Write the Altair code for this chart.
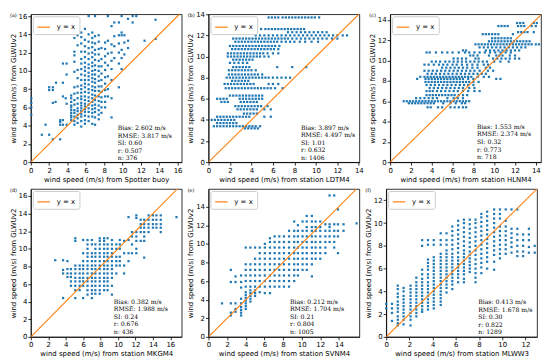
import altair as alt
import pandas as pd

BLUE = "#1f77b4"
ORANGE = "#ff7f0e"
SANS = "DejaVu Sans"
SERIF = "DejaVu Serif"
YTITLE = "wind speed (m/s) from GLWUv2"

# ---- panel (a): columns (x, [y values]) ----
a_cols = [
    (0.05, [5.2, 6.0, 6.5, 7.0]),
    (1.2, [3.0]), (1.6, [4.1]), (2.0, [3.0, 7.9, 8.2]), (2.4, [2.5, 6.5, 7.9, 8.2]),
    (2.7, [6.6]), (2.75, [8.7]),
    (3.2, [2.5, 4.1, 4.4, 4.6]), (3.5, [4.1, 4.6, 7.2, 8.7, 10.8]), (3.8, [7.0]),
    (3.9, [4.1, 6.4, 9.6, 10.8]),
    (4.4, [4.6, 4.9, 5.1, 5.4, 5.7, 6.0, 6.2, 6.6, 7.0, 7.3]),
    (4.75, [4.1, 4.5, 5.0, 5.4, 5.7, 6.3, 6.8, 7.5, 8.2, 9.9, 11.0, 11.7, 12.1, 13.6, 14.3, 14.9]),
    (5.1, [4.3, 4.8, 5.2, 5.6, 5.9, 6.4, 7.0, 7.6, 8.3, 9.2, 10.1, 12.8, 13.9, 15.6]),
    (5.5, [3.9, 4.5, 5.0, 5.3, 5.6, 5.9, 6.2, 6.5, 6.9, 7.2, 7.6, 8.0, 8.4, 9.0, 9.6, 10.2, 10.8, 11.3, 12.1, 13.0, 13.7, 14.2]),
    (5.9, [4.2, 4.6, 5.1, 5.5, 5.8, 6.1, 6.4, 6.8, 7.2, 7.7, 8.2, 8.6, 9.0, 9.5, 10.0, 10.4, 10.9, 11.5, 12.1, 12.7, 13.4, 14.6]),
    (6.3, [4.5, 5.0, 5.5, 5.9, 6.3, 6.7, 7.1, 7.6, 8.0, 8.5, 9.0, 9.4, 9.8, 10.3, 10.7, 11.3, 11.9, 12.5, 13.2, 14.0, 16.0]),
    (6.7, [4.2, 5.0, 5.4, 5.8, 6.2, 6.6, 7.0, 7.4, 7.9, 8.3, 8.8, 9.2, 9.6, 10.0, 10.5, 10.9, 11.5, 12.0, 12.6, 13.1, 13.6, 14.2]),
    (7.0, [4.1, 4.9, 5.5, 5.9, 6.3, 6.8, 7.3, 7.8, 8.2, 8.7, 9.1, 9.6, 10.1, 10.6, 11.2, 11.8, 12.3, 13.0, 13.8, 16.0]),
    (7.4, [4.7, 5.2, 5.7, 6.2, 6.7, 7.2, 7.8, 8.3, 8.9, 9.4, 10.0, 10.5, 11.1, 11.8, 12.4, 13.2, 13.9]),
    (7.7, [5.4, 6.0, 6.6, 7.1, 7.7, 8.3, 9.0, 9.7, 10.5, 11.3, 12.5]),
    (8.1, [6.0, 6.6, 7.2, 7.9, 8.6, 9.3, 10.1, 10.9, 11.6, 12.4, 13.1]),
    (8.4, [7.2, 8.0, 9.4, 10.6, 11.9, 13.3, 16.0]),
    (8.8, [4.9, 7.0, 9.0, 10.2, 11.1, 12.0, 12.9, 14.9]),
    (9.1, [11.4, 12.7, 13.8, 15.3]),
    (9.6, [8.2, 10.8, 12.0, 13.0, 13.9, 15.3]),
    (9.9, [10.2, 11.4, 12.3, 13.9, 14.2, 16.0]),
    (10.2, [11.8, 13.1, 13.9]),
    (10.6, [12.5, 13.3, 15.7]),
    (11.1, [15.3, 16.0]), (11.5, [16.0]),
    (12.4, [13.3]),
    (13.6, [13.5, 15.6]),
]

# ---- panel (b): bands (y, [x values]) ----
b_bands = [
    (13.7, [5.6, 5.9, 6.2, 6.5, 6.9, 7.2, 7.5, 7.8, 8.1, 8.4, 8.7, 9.0, 9.3, 9.6, 9.9, 10.3]),
    (12.6, [4.9, 5.3, 5.6, 5.9, 6.2, 6.5, 6.8, 7.1, 7.4, 7.7, 8.0, 8.3, 8.6, 8.9]),
    (12.3, [7.4, 7.8, 8.2, 8.6, 9.0, 9.4, 9.8, 10.2, 10.6, 11.0]),
    (12.0, [4.4, 4.8, 5.2, 5.6, 6.0, 6.4, 6.8, 7.2, 7.6, 8.0, 8.4, 8.8, 9.2, 9.6, 10.0, 10.4, 10.8, 11.2, 11.6, 12.0, 12.5, 12.9]),
    (11.7, [2.3, 2.6, 2.9, 3.2, 3.5, 3.8, 4.1, 4.4, 4.7, 5.0, 5.3, 5.6, 5.9, 6.2, 6.5, 6.8, 7.1, 7.4, 7.8, 8.2, 8.6, 9.0, 9.4, 9.8, 10.2, 10.6, 11.0, 11.5, 12.0]),
    (11.4, [2.5, 2.8, 3.1, 3.4, 3.7, 4.0, 4.3, 4.6, 4.9, 5.2, 5.5, 5.8, 6.1, 6.4, 6.8, 7.2, 7.6, 8.0, 8.5, 9.0, 9.6, 10.2]),
    (11.0, [2.0, 2.3, 2.6, 2.9, 3.2, 3.5, 3.8, 4.1, 4.4, 4.7, 5.0, 5.3, 5.6, 5.9, 6.2, 6.6]),
    (10.7, [2.2, 2.5, 2.8, 3.1, 3.4, 3.7, 4.0, 4.3, 4.6, 4.9, 5.2, 5.5, 5.8, 6.1, 6.5]),
    (10.3, [1.8, 2.1, 2.4, 2.7, 3.0, 3.3, 3.6, 3.9, 4.2, 4.5, 4.8, 5.1, 5.5, 6.0, 6.5]),
    (10.0, [1.8, 2.1, 2.4, 2.7, 3.0, 3.3, 3.6, 3.9, 4.2, 4.5, 4.8, 5.2, 5.6]),
    (9.7, [2.3, 2.6, 2.9, 3.2, 3.5, 3.8, 4.1]),
    (9.4, [2.0, 2.4, 2.8, 3.2, 3.6]),
    (9.0, [2.3, 2.6, 2.9, 3.2, 3.5, 3.8, 6.4, 7.8, 9.1]),
    (8.7, [1.9, 2.2, 2.5, 2.8, 3.1, 3.4, 3.7, 4.0, 4.4]),
    (8.3, [1.9, 2.2, 2.5, 2.8, 3.1, 3.4, 3.7, 4.0, 4.3, 4.6, 5.0]),
    (8.0, [1.7, 2.0, 2.3, 2.6, 2.9, 3.2, 3.5, 3.8, 4.1, 4.4, 4.7, 5.0, 5.3, 5.6, 6.0, 6.4, 6.8, 7.2, 7.6]),
    (7.7, [2.2, 2.5, 2.8, 3.1, 3.4, 3.7]),
    (7.4, [1.5, 1.8, 2.1, 2.4, 2.7, 3.0, 3.3, 3.6, 3.9, 4.2, 5.6, 6.0, 6.5]),
    (7.0, [1.6, 1.9, 2.2, 2.5, 2.8, 3.1, 3.4, 3.7, 4.0, 4.3, 4.6, 4.9, 5.2, 5.5, 5.8, 6.2, 6.9]),
    (6.3, [2.0, 2.3, 2.6, 2.9, 3.2, 3.5, 3.8, 4.1, 4.4, 4.7, 5.0]),
    (6.0, [0.8, 1.1, 1.4, 1.7, 2.9, 3.2, 3.5, 3.8, 4.1, 4.4, 4.7, 5.0]),
    (5.7, [1.2, 1.5, 1.8, 3.0, 3.3, 3.6, 3.9, 4.2, 4.5]),
    (5.3, [2.5, 2.8, 3.1, 3.4, 3.7, 4.0, 4.3, 4.6, 4.9, 5.5]),
    (5.0, [2.7, 3.0, 3.3, 3.6, 3.9, 4.2, 4.5, 5.2, 5.8]),
    (4.6, [3.3, 3.6, 3.9, 4.2, 4.5]),
    (4.3, [0.8, 1.1, 1.4, 1.7, 2.0, 2.3, 2.6, 2.9, 3.2, 3.5, 3.8, 5.2, 5.8]),
    (4.0, [0.3, 0.6, 0.9, 1.2, 1.5, 1.8, 2.1, 2.4]),
    (3.7, [0.8, 1.1, 1.4, 1.7, 2.0, 2.3, 2.6]),
    (3.4, [0.5, 0.8, 1.1, 1.4, 1.7, 2.0, 2.3, 2.6, 2.9, 3.2, 3.5, 3.8, 4.1, 4.4, 4.8]),
    (3.2, [3.4, 3.7, 4.0, 4.3, 4.6]),
]

# ---- panel (c): bands (y, [x values]) ----
c_bands = [
    (13.7, [12.2, 12.5, 12.8, 13.8, 14.1]),
    (13.4, [10.4, 10.7, 11.0, 11.3, 12.3, 12.6, 12.9, 13.6, 14.0]),
    (12.8, [12.3, 12.6, 12.9, 13.2, 13.8]),
    (12.6, [8.9, 9.2, 9.5, 9.8, 10.1, 10.4, 11.8]),
    (12.2, [9.8, 10.1, 10.4, 10.7, 11.0, 11.3, 11.6]),
    (11.9, [9.5, 9.8, 10.1, 10.4, 10.7, 11.0, 11.3, 11.6, 11.9, 12.2, 12.5, 12.8, 13.1, 13.4]),
    (11.6, [8.2, 8.5, 8.8, 9.1, 9.4, 9.7, 10.0, 10.3, 10.6, 10.9, 11.2, 11.5, 11.8, 12.1, 12.4, 12.7, 13.0, 13.3, 13.6, 14.0, 14.3]),
    (11.3, [8.6, 9.0, 9.4, 9.8, 10.2, 10.6, 11.0, 11.4, 11.8, 12.2, 12.6, 13.0]),
    (11.0, [7.0, 7.3, 9.2, 9.6, 10.0, 10.4, 10.8, 11.2, 11.6, 12.0, 12.4]),
    (10.8, [3.5, 3.8, 4.4, 5.0, 5.5, 6.0, 6.6, 7.2, 7.6, 8.1, 8.6, 9.1, 9.6, 10.1, 10.6, 11.1, 11.6]),
    (10.5, [7.7, 8.0, 8.4, 9.5, 10.2, 10.5, 10.8, 11.5, 12.0]),
    (10.2, [6.1, 6.5, 6.9, 7.3, 8.2, 8.5, 9.9, 10.3, 10.7, 11.1, 11.5, 12.0, 12.4]),
    (9.9, [4.0, 4.4, 4.8, 5.3, 5.7, 6.1, 6.5, 6.9, 7.3, 7.7, 8.1, 8.5, 8.9, 9.3, 10.0, 10.6, 11.4]),
    (9.6, [3.3, 3.7, 4.2, 4.7, 5.1, 5.5, 6.0, 6.4, 6.9, 7.4, 7.9, 8.4, 9.0, 9.4]),
    (9.3, [5.0, 5.4, 5.8, 6.2, 6.6, 7.0, 7.4, 7.9, 8.4, 9.2, 9.6]),
    (9.0, [3.3, 3.7, 4.1, 4.5, 4.9, 5.3, 5.7, 6.1, 6.5, 6.9, 7.3, 7.7, 8.1, 8.6, 9.4, 9.9]),
    (8.7, [3.6, 4.0, 4.4, 4.8, 5.2, 5.6, 6.0, 6.4, 6.8, 7.2, 7.6, 8.0, 8.4, 8.8, 9.2]),
    (8.4, [2.9, 3.3, 3.6, 3.9, 4.2, 4.5, 4.8, 5.1, 5.4, 5.7, 6.0, 6.3, 6.6, 6.9, 7.2, 7.5, 7.8, 8.4, 9.0, 9.5]),
    (8.2, [2.6, 3.4, 3.7, 4.0, 4.3, 4.6, 4.9, 5.2, 5.5, 5.8, 6.1, 6.4, 6.7, 7.0, 7.5, 8.0, 10.2, 10.6]),
    (7.9, [3.4, 3.7, 4.0, 4.3, 4.6, 4.9, 5.2, 5.5, 5.8, 6.1, 6.4, 6.7, 7.0, 7.3, 7.6, 8.0, 8.5]),
    (7.6, [3.5, 3.9, 4.3, 4.7, 5.1, 5.5, 5.9, 6.3, 6.7, 7.1, 7.5, 8.0]),
    (7.3, [3.8, 4.2, 4.6, 5.0, 5.4, 5.8, 6.2, 6.6, 7.0, 7.6, 8.1]),
    (7.0, [3.5, 3.8, 4.1, 4.5, 4.9, 5.3, 5.7, 6.1, 6.5, 7.0, 7.5, 8.1, 8.6]),
    (6.6, [3.5, 3.8, 4.1, 4.4, 4.7, 5.0, 5.3, 5.6, 5.9, 6.2, 6.6, 7.0, 7.4]),
    (6.3, [2.5, 2.9, 3.3, 3.7, 4.1, 4.5, 5.5, 6.1, 6.5, 7.0]),
    (6.0, [1.3, 1.6, 1.9, 2.2, 2.5, 2.8, 3.1, 3.4, 3.7, 4.0, 4.3, 4.6, 4.9, 5.2, 5.5, 5.8, 6.1, 6.4, 6.7, 7.0, 7.3, 7.6]),
    (5.8, [1.8, 2.1, 2.4, 2.7, 3.0, 3.3, 3.6, 3.9, 4.2, 5.1, 5.8, 6.3, 6.9, 7.2]),
    (5.4, [3.6, 3.9, 4.6, 5.0, 5.8, 6.2, 6.6, 7.0, 7.3]),
]

# ---- panel (d): columns (x, [y values]) ----
d_cols = [
    (2.8, [8.7]),
    (3.7, [4.4, 7.2, 7.6, 8.7]),
    (4.2, [6.8, 7.2, 7.7, 8.6]),
    (4.6, [5.8, 6.3, 6.8, 7.2, 7.7]),
    (5.1, [4.4, 5.3, 5.8, 6.3, 6.7, 7.2, 7.7, 8.1, 10.9, 11.2]),
    (5.6, [5.3, 5.8, 6.3, 6.7, 7.2, 7.7, 8.1]),
    (6.0, [4.4, 5.8, 6.3, 6.7, 7.2, 7.7, 8.1, 8.6, 9.5, 11.0]),
    (6.5, [4.8, 5.3, 5.8, 6.3, 6.7, 7.2, 7.7, 8.1, 8.6, 9.1, 9.5, 10.0, 10.5, 11.0]),
    (7.0, [4.4, 4.9, 5.3, 5.8, 6.3, 6.7, 7.2, 7.7, 8.1, 8.6, 9.1, 9.5, 10.5, 11.0]),
    (7.4, [4.9, 5.3, 5.8, 6.3, 6.7, 7.2, 7.7, 8.1, 8.6, 9.1, 9.5, 10.0, 10.5]),
    (7.9, [4.9, 5.3, 5.8, 6.3, 6.7, 7.2, 7.7, 8.1, 8.6, 9.1, 9.5, 10.0, 10.5, 10.9, 11.2]),
    (8.4, [5.3, 5.8, 6.3, 6.7, 7.2, 7.7, 8.1, 8.6, 9.1, 9.5, 10.0, 10.5, 10.9, 11.2]),
    (8.8, [5.3, 5.8, 6.3, 6.7, 7.2, 7.7, 8.1, 8.6, 9.1, 9.5, 10.0, 10.5, 11.2]),
    (9.3, [4.8, 5.8, 6.7, 7.2, 7.7, 8.1, 8.6, 9.1, 9.5, 10.0, 10.5, 11.0]),
    (9.8, [7.2, 8.1, 8.6, 9.1, 10.0, 10.5]),
    (10.2, [8.1, 8.6, 9.1, 10.0, 10.5, 11.0]),
    (10.7, [7.2, 8.1, 9.5, 10.9]),
    (11.2, [8.6, 9.5, 11.0, 13.6]),
    (11.6, [9.5, 10.5, 11.4, 11.9]),
    (12.1, [9.5, 10.0, 10.9, 11.4, 11.9, 13.5, 13.8]),
    (12.6, [10.9, 11.9, 12.4, 12.8, 13.3]),
    (13.0, [9.0, 10.9, 11.4, 11.9, 12.4, 12.8, 13.3]),
    (13.5, [11.9, 12.4, 12.8, 13.3, 13.8]),
    (14.0, [12.4, 12.8, 13.3, 13.8]),
    (14.4, [12.4, 12.8, 13.3, 13.8]),
    (14.9, [11.9, 12.4, 12.8, 13.3, 13.8]),
    (16.7, [13.6]),
]

# ---- panel (e): columns (x, [y values]) ----
e_cols = [
    (1.45, [3.6]),
    (2.4, [2.3, 2.6, 3.6, 5.9, 7.2]),
    (2.9, [2.7, 3.0, 3.6, 5.9, 6.5]),
    (3.5, [2.3, 2.6, 2.9, 3.2, 3.6, 4.1, 5.3, 5.9, 6.6]),
    (4.0, [3.0, 3.3, 3.6, 3.9, 4.2, 4.5, 4.8, 5.4, 6.0, 6.6, 7.2, 7.8, 9.6]),
    (4.5, [3.8, 4.1, 4.4, 4.7, 5.0, 5.4, 6.0, 6.6, 7.2, 7.8, 9.6]),
    (5.0, [4.4, 4.7, 5.0, 5.4, 6.0, 6.6, 7.2, 7.8, 8.4, 9.6]),
    (5.5, [4.8, 5.4, 6.0, 6.6, 7.2, 7.8, 8.4, 9.0, 9.6]),
    (6.05, [4.7, 5.4, 6.0, 6.6, 7.2, 7.8, 8.4, 9.0, 9.6, 10.0]),
    (6.6, [4.7, 5.4, 6.0, 6.6, 7.2, 7.8, 8.4, 9.0, 9.6, 10.2, 10.6]),
    (7.1, [5.4, 6.0, 6.6, 7.2, 7.8, 8.4, 9.0, 9.6, 10.2, 10.8]),
    (7.6, [5.4, 6.0, 6.6, 7.2, 7.8, 8.4, 9.0, 9.6, 10.2, 10.8]),
    (8.1, [5.4, 6.0, 6.6, 7.2, 7.8, 8.4, 9.0, 9.6, 10.2, 10.8]),
    (8.65, [5.4, 6.0, 6.6, 7.2, 7.8, 8.4, 9.0, 9.6, 10.2, 10.8, 11.4]),
    (9.2, [6.0, 6.6, 7.2, 7.8, 8.4, 9.0, 9.6, 10.2, 10.8, 11.4, 12.4]),
    (9.6, [6.6, 7.2, 7.8, 8.4, 9.0, 9.6, 10.2, 10.8, 11.4, 12.0]),
    (10.1, [7.2, 7.8, 8.4, 9.0, 9.6, 10.2, 10.8, 11.4, 12.4]),
    (10.55, [7.2, 7.8, 8.4, 9.0, 9.6, 10.2, 10.8, 11.4, 11.8, 12.4, 13.0]),
    (11.1, [6.5, 7.8, 8.4, 9.0, 9.6, 10.2, 10.8, 11.4, 11.8, 12.4, 13.0]),
    (11.5, [8.4, 9.0, 9.6, 10.2, 10.8, 11.4, 11.8, 12.4]),
    (12.0, [8.4, 9.0, 9.6, 10.2, 10.8, 11.4, 11.8, 12.4]),
    (12.55, [9.0, 9.6, 10.2, 10.8, 11.4, 12.1]),
    (13.0, [10.2, 10.8, 11.4, 11.8, 12.1, 15.2]),
    (13.5, [9.6, 10.2, 10.8, 11.4, 12.1, 15.2]),
    (13.9, [9.0, 10.8, 11.4, 12.1, 13.7]),
    (14.5, [11.4, 12.1]),
    (15.9, [12.2]),
]

# ---- panel (f): columns (x, [y values]) ----
f_cols = [
    (0.0, [2.5, 2.9]),
    (0.5, [1.4, 2.1, 2.5, 2.9]),
    (1.0, [1.0, 1.2, 1.5, 1.8, 2.2, 2.5, 2.8, 3.1, 3.5, 3.8, 4.2, 4.5]),
    (1.5, [1.1, 1.5, 1.8, 2.1, 2.4, 2.7, 3.0, 3.3, 3.6, 4.0, 4.3]),
    (2.1, [1.0, 1.5, 1.8, 2.1, 2.4, 2.7, 3.0, 3.3, 3.6, 3.9, 4.2, 4.5]),
    (2.6, [1.8, 2.1, 2.4, 2.7, 3.0, 3.3, 3.6, 3.9, 4.2, 4.5, 4.8, 5.2]),
    (3.1, [2.2, 2.4, 2.7, 3.0, 3.3, 3.6, 3.9, 4.2, 4.5, 4.8, 5.1, 5.5, 5.9, 8.0, 8.5]),
    (3.6, [2.4, 2.7, 3.0, 3.3, 3.6, 3.9, 4.2, 4.5, 4.8, 5.2, 5.5, 5.9, 6.2, 6.5, 6.8, 8.1, 8.5]),
    (4.1, [2.5, 2.8, 3.1, 3.4, 3.7, 4.0, 4.3, 4.6, 4.9, 5.2, 5.5, 5.8, 6.1, 6.4, 6.7, 7.0, 8.1, 8.5]),
    (4.7, [2.8, 3.1, 3.4, 3.7, 4.0, 4.3, 4.6, 4.9, 5.2, 5.5, 5.8, 6.1, 6.4, 6.7, 7.0, 7.3, 8.1, 8.5, 9.1]),
    (5.2, [3.9, 4.3, 4.6, 4.9, 5.2, 5.5, 5.8, 6.1, 6.4, 6.7, 7.0, 7.3, 7.6, 8.1, 8.5, 9.1]),
    (5.7, [4.2, 4.6, 4.9, 5.2, 5.5, 5.8, 6.1, 6.4, 6.7, 7.0, 7.3, 7.7, 8.1, 8.5, 8.9, 9.3, 9.7]),
    (6.2, [4.8, 5.2, 5.5, 5.8, 6.1, 6.4, 6.7, 7.0, 7.4, 7.8, 8.2, 8.6, 9.0, 9.4, 9.8, 10.2]),
    (6.7, [4.8, 5.1, 5.5, 5.8, 6.1, 6.4, 6.7, 7.0, 7.3, 7.6, 8.0, 8.4, 8.8, 9.2, 9.6, 10.0, 10.3]),
    (7.2, [5.7, 6.0, 6.3, 6.6, 6.9, 7.2, 7.5, 7.9, 8.3, 8.7, 9.1, 9.5, 9.9, 10.3]),
    (7.7, [4.8, 5.2, 5.6, 6.0, 6.4, 6.8, 7.2, 7.6, 8.0, 8.4, 8.8, 9.2, 9.6, 10.0, 10.3]),
    (8.2, [5.6, 6.1, 6.5, 6.9, 7.3, 7.7, 8.1, 8.5, 8.9, 9.3, 9.7, 10.1, 10.5, 10.8]),
    (8.7, [6.0, 6.6, 7.0, 7.4, 7.8, 8.2, 8.6, 9.0, 9.4, 9.8, 10.2, 10.6, 11.0]),
    (9.3, [5.9, 6.6, 7.2, 7.6, 8.0, 8.4, 8.8, 9.2, 9.6, 10.0, 10.4, 10.8, 11.2]),
    (9.8, [6.9, 7.3, 7.7, 8.1, 8.5, 8.9, 9.3, 9.7, 10.4, 10.8, 11.2]),
    (10.3, [7.3, 7.7, 8.1, 8.5, 8.9, 9.3, 9.7, 10.2, 11.2]),
    (10.8, [7.4, 7.9, 8.3, 8.7, 9.1, 9.5, 11.2]),
    (11.3, [7.1, 7.5, 8.0, 8.5, 9.0, 9.5, 11.2]),
    (11.8, [7.1, 7.5, 8.0, 8.5, 9.0]),
    (12.3, [7.4, 7.9, 8.5, 9.0, 9.5]),
    (12.8, [7.4, 8.0]),
]

tags = ["(a)", "(b)", "(c)", "(d)", "(e)", "(f)"]
sources = ["Spotter buoy", "station LDTM4", "station HLNM4",
           "station MKGM4", "station SVNM4", "station MLWW3"]
bias = ["2.602", "3.897", "1.553", "0.382", "0.212", "0.413"]
rmse = ["3.817", "4.497", "2.374", "1.988", "1.704", "1.678"]
si = ["0.60", "1.01", "0.32", "0.24", "0.21", "0.30"]
rr = ["0.507", "0.632", "0.773", "0.676", "0.804", "0.822"]
nn = ["376", "1406", "718", "436", "1005", "1289"]
x_max = [16.45, 14.05, 14.5, 17.3, 16.2, 13.0]
y_max = [16.2, 14.0, 14.56, 16.8, 15.9, 13.0]
x_ticks = [list(range(0, 17, 2)), list(range(0, 15, 2)), list(range(0, 15, 2)),
           list(range(0, 17, 2)), list(range(0, 15, 2)), list(range(0, 13, 2))]
y_ticks = [list(range(0, 17, 2)), list(range(0, 15, 2)), list(range(0, 15, 2)),
           list(range(0, 17, 2)), list(range(0, 15, 2)), list(range(0, 13, 2))]
stat_x = [0.576, 0.613, 0.575, 0.55, 0.54, 0.61]
stat_y = [0.75, 0.747, 0.742, 0.742, 0.742, 0.746]


def from_cols(cols):
    return pd.DataFrame([(x, y) for x, ys in cols for y in ys], columns=["x", "y"])


def from_bands(bands):
    return pd.DataFrame([(x, y) for y, xs in bands for x in xs], columns=["x", "y"])


frames = [from_cols(a_cols), from_bands(b_bands), from_bands(c_bands),
          from_cols(d_cols), from_cols(e_cols), from_cols(f_cols)]

W, H = 152, 149


def panel(i):
    df = frames[i]
    xs = alt.Scale(domain=[0, x_max[i]], nice=False, zero=False)
    ys = alt.Scale(domain=[0, y_max[i]], nice=False, zero=False)
    xax = alt.Axis(values=x_ticks[i], title="wind speed (m/s) from " + sources[i],
                   labelFlush=False, labelOverlap=False)
    yax = alt.Axis(values=y_ticks[i], title=YTITLE, labelOverlap=False)
    pts = alt.Chart(df).mark_square(size=5, color=BLUE, opacity=1).encode(
        x=alt.X("x:Q", scale=xs, axis=xax),
        y=alt.Y("y:Q", scale=ys, axis=yax),
    )
    m = min(x_max[i], y_max[i])
    ldf = pd.DataFrame({"x": [0, m], "y": [0, m], "lab": ["y = x", "y = x"]})
    line = alt.Chart(ldf).mark_line(strokeWidth=1.1, clip=True).encode(
        x=alt.X("x:Q", scale=xs, axis=xax),
        y=alt.Y("y:Q", scale=ys, axis=yax),
        color=alt.Color("lab:N", scale=alt.Scale(domain=["y = x"], range=[ORANGE]),
                        legend=alt.Legend(title=None, orient="top-left", offset=2,
                                          padding=4, strokeColor="#cccccc",
                                          fillColor="white", cornerRadius=2,
                                          symbolType="stroke", symbolSize=160,
                                          symbolStrokeWidth=1.2, labelFontSize=7,
                                          labelFont=SANS, labelColor="black",
                                          labelOffset=6)),
    )
    one = pd.DataFrame({"k": [0]})
    lines = ["Bias: " + bias[i] + " m/s", "RMSE: " + rmse[i] + " m/s",
             "SI: " + si[i], "r: " + rr[i], "n: " + nn[i]]
    stats = alt.Chart(one).mark_text(align="left", baseline="top", font=SERIF,
                                     fontSize=6.2, lineHeight=7.6, color="black").encode(
        x=alt.value(stat_x[i] * W), y=alt.value(stat_y[i] * H), text=alt.value(lines))
    tag = alt.Chart(one).mark_text(align="left", baseline="middle", font=SERIF,
                                   fontSize=5, color="black").encode(
        x=alt.value(-21), y=alt.value(1), text=alt.value(tags[i]))
    return alt.layer(pts, line, stats, tag).properties(width=W, height=H)


row1 = alt.hconcat(panel(0), panel(1), panel(2), spacing=3).resolve_scale(color="independent")
row2 = alt.hconcat(panel(3), panel(4), panel(5), spacing=3).resolve_scale(color="independent")
chart = alt.vconcat(row1, row2, spacing=4).resolve_scale(color="independent").properties(
    padding=0
).configure_view(stroke="black", strokeWidth=0.8).configure_axis(
    grid=False, domainColor="black", domainWidth=0.8, tickColor="black", tickWidth=0.8,
    tickSize=3, labelFont=SANS, labelFontSize=7, labelColor="black", labelPadding=1,
    titleFont=SANS, titleFontSize=7, titleFontWeight="normal", titleColor="black",
    titlePadding=2, labelOverlap=False,
)

chart.save("out.html", embed_options={"renderer": "svg", "actions": False})
